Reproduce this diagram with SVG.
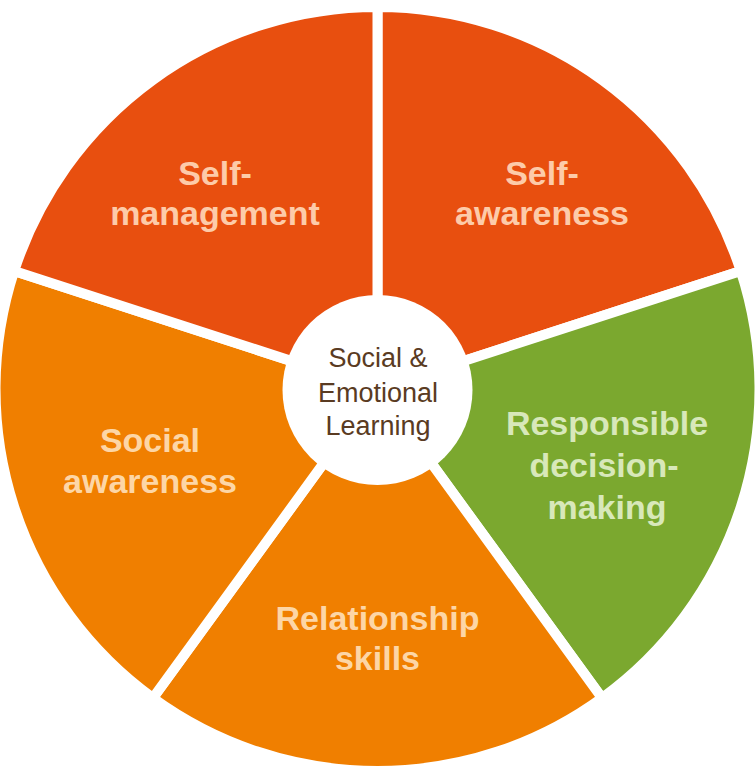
<svg xmlns="http://www.w3.org/2000/svg" width="755" height="767" viewBox="0 0 755 767">
  <style>
    .sec { stroke: #ffffff; stroke-width: 10; stroke-linejoin: miter; }
    .red { fill: #E84F0F; }
    .orange { fill: #F07F00; }
    .green { fill: #7BA82F; }
    .lbl { font-family: "Liberation Sans", Arial, sans-serif; font-weight: bold; font-size: 34px; text-anchor: middle; }
    .tred { fill: #FDCBA9; }
    .torange { fill: #FDD6A6; }
    .tgreen { fill: #D8E8BA; }
    .center { font-family: "Liberation Sans", Arial, sans-serif; font-size: 27px; text-anchor: middle; fill: #5A3B22; }
  </style>
  <rect width="755" height="767" fill="#ffffff"/>
  <g id="self-awareness">
    <path class="sec red" d="M377.5,389 L377.5,7 A382,382 0 0 1 740.8,270.96 Z"/>
    <text class="lbl tred" x="542" y="185">Self-</text>
    <text class="lbl tred" x="542" y="225">awareness</text>
  </g>
  <g id="responsible-decision-making">
    <path class="sec green" d="M377.5,389 L740.8,270.96 A382,382 0 0 1 602.03,698.04 Z"/>
    <text class="lbl tgreen" x="607" y="435">Responsible</text>
    <text class="lbl tgreen" x="604" y="477">decision-</text>
    <text class="lbl tgreen" x="607" y="519">making</text>
  </g>
  <g id="relationship-skills">
    <path class="sec orange" d="M377.5,389 L602.03,698.04 A382,382 0 0 1 152.97,698.04 Z"/>
    <text class="lbl torange" x="377.5" y="630">Relationship</text>
    <text class="lbl torange" x="377.5" y="670">skills</text>
  </g>
  <g id="social-awareness">
    <path class="sec orange" d="M377.5,389 L152.97,698.04 A382,382 0 0 1 14.2,270.96 Z"/>
    <text class="lbl torange" x="150" y="452">Social</text>
    <text class="lbl torange" x="150" y="493">awareness</text>
  </g>
  <g id="self-management">
    <path class="sec red" d="M377.5,389 L14.2,270.96 A382,382 0 0 1 377.5,7 Z"/>
    <text class="lbl tred" x="215" y="185">Self-</text>
    <text class="lbl tred" x="215" y="225">management</text>
  </g>
  <g id="sel-center">
    <circle cx="377.5" cy="390" r="95" fill="#ffffff"/>
    <text class="center" x="378" y="367">Social &amp;</text>
    <text class="center" x="378" y="402">Emotional</text>
    <text class="center" x="378" y="435">Learning</text>
  </g>
  <g id="connectors"/>
</svg>
